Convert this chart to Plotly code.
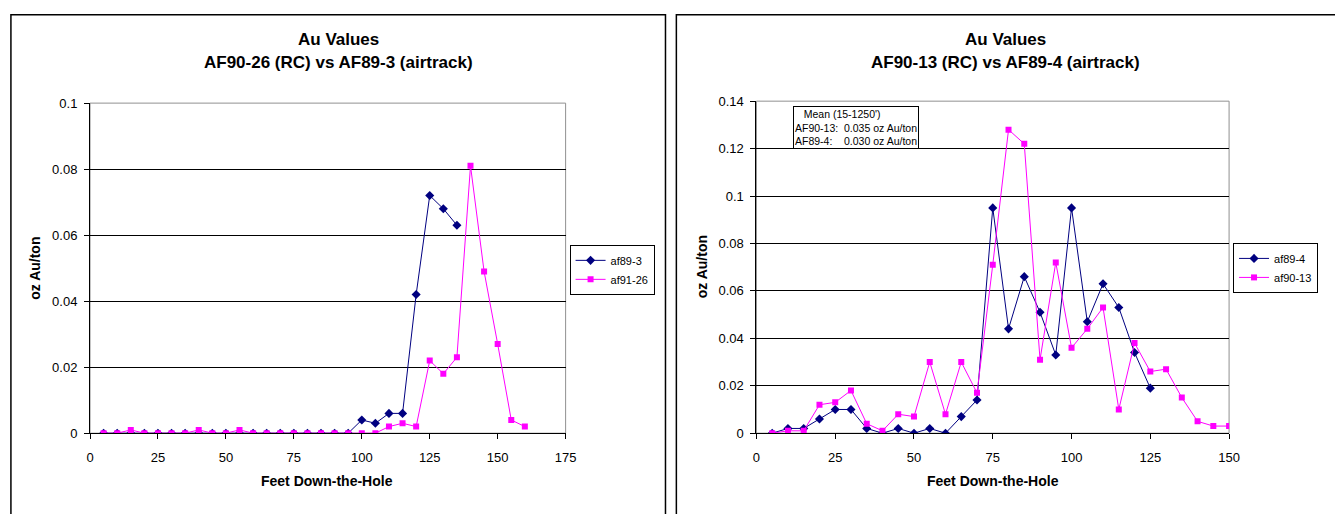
import plotly.graph_objects as go

W, H = 1335, 514

# ---------------- data ----------------
depth_af89_3 = [5, 10, 15, 20, 25, 30, 35, 40, 45, 50, 55, 60, 65, 70, 75, 80, 85, 90, 95,
                100, 105, 110, 115, 120, 125, 130, 135]
au_af89_3 = [0, 0, 0, 0, 0, 0, 0, 0, 0, 0, 0, 0, 0, 0, 0, 0, 0, 0, 0,
             0.004, 0.003, 0.006, 0.006, 0.042, 0.072, 0.068, 0.063]

depth_af91_26 = [5, 10, 15, 20, 25, 30, 35, 40, 45, 50, 55, 60, 65, 70, 75, 80, 85, 90, 95,
                 100, 105, 110, 115, 120, 125, 130, 135, 140, 145, 150, 155, 160]
au_af91_26 = [0, 0, 0.001, 0, 0, 0, 0, 0.001, 0, 0, 0.001, 0, 0, 0, 0, 0, 0, 0, 0,
              0, 0, 0.002, 0.003, 0.002, 0.022, 0.018, 0.023, 0.081, 0.049, 0.027, 0.004, 0.002]

depth_af89_4 = [5, 10, 15, 20, 25, 30, 35, 40, 45, 50, 55, 60, 65, 70, 75, 80, 85, 90, 95,
                100, 105, 110, 115, 120, 125]
au_af89_4 = [0, 0.002, 0.002, 0.006, 0.010, 0.010, 0.002, 0, 0.002, 0, 0.002, 0, 0.007, 0.014,
             0.095, 0.044, 0.066, 0.051, 0.033, 0.095, 0.047, 0.063, 0.053, 0.034, 0.019]

depth_af90_13 = [5, 10, 15, 20, 25, 30, 35, 40, 45, 50, 55, 60, 65, 70, 75, 80, 85, 90, 95,
                 100, 105, 110, 115, 120, 125, 130, 135, 140, 145, 150]
au_af90_13 = [0, 0.001, 0.001, 0.012, 0.013, 0.018, 0.004, 0.001, 0.008, 0.007, 0.030, 0.008,
              0.030, 0.017, 0.071, 0.128, 0.122, 0.031, 0.072, 0.036, 0.044, 0.053, 0.010,
              0.038, 0.026, 0.027, 0.015, 0.005, 0.003, 0.003]

left_title = ["Au Values", "AF90-26 (RC) vs AF89-3 (airtrack)"]
right_title = ["Au Values", "AF90-13 (RC) vs AF89-4 (airtrack)"]
x_title = "Feet Down-the-Hole"
y_title = "oz Au/ton"
note_lines = ["\u00a0\u00a0\u00a0Mean (15-1250')",
              "AF90-13:\u00a0\u00a00.035 oz Au/ton",
              "AF89-4:\u00a0\u00a0\u00a0\u00a00.030 oz Au/ton"]

NAVY = "#000080"
MAGENTA = "#FF00FF"
FONT = "Arial, Liberation Sans, sans-serif"


def px(x):
    return x / W


def py(y):
    return 1 - y / H


fig = go.Figure()

fig.add_trace(go.Scatter(x=depth_af89_3, y=au_af89_3, name="af89-3", mode="lines+markers",
                         line=dict(color=NAVY, width=1),
                         marker=dict(symbol="diamond", size=7, color=NAVY),
                         xaxis="x", yaxis="y", legend="legend"))
fig.add_trace(go.Scatter(x=depth_af91_26, y=au_af91_26, name="af91-26", mode="lines+markers",
                         line=dict(color=MAGENTA, width=1),
                         marker=dict(symbol="square", size=6, color=MAGENTA),
                         xaxis="x", yaxis="y", legend="legend"))
fig.add_trace(go.Scatter(x=depth_af89_4, y=au_af89_4, name="af89-4", mode="lines+markers",
                         line=dict(color=NAVY, width=1),
                         marker=dict(symbol="diamond", size=7, color=NAVY),
                         xaxis="x2", yaxis="y2", legend="legend2"))
fig.add_trace(go.Scatter(x=depth_af90_13, y=au_af90_13, name="af90-13", mode="lines+markers",
                         line=dict(color=MAGENTA, width=1),
                         marker=dict(symbol="square", size=6, color=MAGENTA),
                         xaxis="x2", yaxis="y2", legend="legend2"))

tickfont = dict(family=FONT, size=13, color="black")
xcommon = dict(showgrid=False, zeroline=False, showline=True, linecolor="black", linewidth=1,
               ticks="outside", ticklen=5, tickcolor="black", tickfont=tickfont, dtick=25, tick0=0,
               ticklabelstandoff=7)
ycommon = dict(showgrid=True, gridcolor="black", gridwidth=1, zeroline=False, showline=True,
               linecolor="black", linewidth=1, ticks="outside", ticklen=5, tickcolor="black",
               tickfont=tickfont, dtick=0.02, tick0=0, ticklabelstandoff=4)

legend_common = dict(bordercolor="black", borderwidth=1, bgcolor="white",
                     font=dict(family=FONT, size=11, color="black"),
                     xanchor="left", yanchor="top", tracegroupgap=0)

fig.update_layout(
    width=W, height=H,
    margin=dict(l=0, r=0, t=0, b=0),
    paper_bgcolor="white", plot_bgcolor="white",
    xaxis=dict(domain=[px(87), px(568)], range=[0, 175], anchor="y", **xcommon),
    yaxis=dict(domain=[py(439), py(99)], range=[0, 0.1], anchor="x", **ycommon),
    xaxis2=dict(domain=[px(761), px(1239)], range=[0, 150], anchor="y2", **xcommon),
    yaxis2=dict(domain=[py(439), py(97)], range=[0, 0.14], anchor="x2", **ycommon),
    legend=dict(x=px(572), y=py(245), **legend_common),
    legend2=dict(x=px(1243), y=py(243), **legend_common),
    showlegend=True,
)

shapes = []
# chart area borders
shapes.append(dict(type="rect", xref="paper", yref="paper", x0=px(7), x1=px(669),
                   y0=py(540), y1=py(8), line=dict(color="black", width=1.5), layer="below"))
shapes.append(dict(type="rect", xref="paper", yref="paper", x0=px(680), x1=px(1350),
                   y0=py(540), y1=py(8), line=dict(color="black", width=1.5), layer="below"))
# plot area borders (gray)
for xr, yr in (("x", "y"), ("x2", "y2")):
    shapes.append(dict(type="rect", xref=f"{xr} domain", yref=f"{yr} domain", x0=0, x1=1,
                       y0=0, y1=1, line=dict(color="#909090", width=1), layer="below"))
fig.update_layout(shapes=shapes)

ann = []
title_font = dict(family=FONT, size=17, color="black")
for cx, lines in ((338, left_title), (1013, right_title)):
    for yy, t in zip((33, 57), lines):
        ann.append(dict(text=f"<b>{t}</b>", x=px(cx), y=py(yy), xref="paper", yref="paper",
                        xanchor="center", yanchor="middle", showarrow=False, font=title_font))
axis_font = dict(family=FONT, size=14, color="black")
for cx in (327, 1000):
    ann.append(dict(text=f"<b>{x_title}</b>", x=px(cx), y=py(488), xref="paper", yref="paper",
                    xanchor="center", yanchor="middle", showarrow=False, font=axis_font))
for cx, cy in ((32, 269), (706, 268)):
    ann.append(dict(text=f"<b>{y_title}</b>", x=px(cx), y=py(cy), xref="paper", yref="paper",
                    xanchor="center", yanchor="middle", showarrow=False, textangle=-90,
                    font=axis_font))
ann.append(dict(text="<br>".join(note_lines), x=px(798), y=py(102), xref="paper", yref="paper",
                xanchor="left", yanchor="top", showarrow=False, align="left",
                bordercolor="black", borderwidth=1, borderpad=1, bgcolor="white",
                font=dict(family=FONT, size=10.5, color="black")))
fig.update_layout(annotations=ann)

fig.write_html("out.html", config={"displayModeBar": False},
               post_script="document.body.style.margin='0';document.body.style.overflow='hidden';")
